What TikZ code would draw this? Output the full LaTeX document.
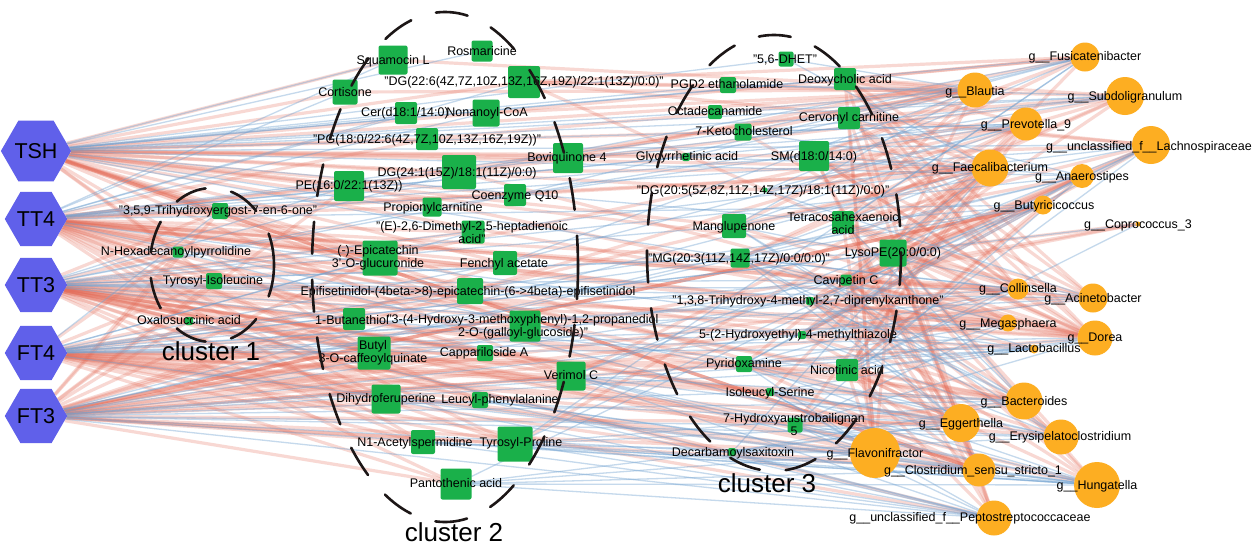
\documentclass[tikz,border=0pt]{standalone}
\usepackage{fontspec}
\setmainfont{Liberation Sans}
\usetikzlibrary{shapes.geometric}
\definecolor{hexblue}{RGB}{96,96,234}
\definecolor{mgreen}{RGB}{26,176,74}
\definecolor{borange}{RGB}{253,174,34}
\definecolor{poscol}{RGB}{228,108,88}
\definecolor{negcol}{RGB}{110,160,208}
\definecolor{ringcol}{RGB}{28,22,22}
\pgfdeclarelayer{bg}
\pgfdeclarelayer{edges}
\pgfsetlayers{bg,edges,main}
\newcommand{\gpre}{g\_\_}
\tikzset{
  met/.style={fill=mgreen, rounded corners=2pt, minimum size=#1, inner sep=0pt, outer sep=0pt},
  bac/.style={circle, fill=borange, minimum size=#1, inner sep=0pt, outer sep=0pt},
  hexnode/.style={regular polygon, regular polygon sides=6, minimum size=61pt, fill=hexblue, inner sep=0pt, font=\fontsize{21.5}{24}\selectfont},
  lbl/.style={inner sep=0pt, font=\fontsize{12.5}{13}\selectfont, text height=9pt, text depth=2.6pt},
  lbltwo/.style={inner sep=0pt, font=\fontsize{12.5}{13}\selectfont, align=center},
  clu/.style={draw=ringcol, line width=2.6pt, dash pattern=on 32pt off 26pt, line cap=round},
  clulbl/.style={inner sep=0pt, font=\fontsize{26}{28}\selectfont},
  poslink/.style={draw=poscol, line width=3.2pt, draw opacity=0.26},
  neglink/.style={draw=negcol, line width=1.3pt, draw opacity=0.4},
  posstrong/.style={draw=poscol, line width=3.5pt, draw opacity=0.6},
}
\begin{document}
\begin{tikzpicture}[x=1pt,y=-1pt]
\useasboundingbox (0,0) rectangle (1259,547);
\begin{pgfonlayer}{bg}
\fill[white] (0,0) rectangle (1259,547);
\end{pgfonlayer}

% thyroid parameters
\node[hexnode] (TSH) at (36,151) {TSH};
\node[hexnode] (TT4) at (36,219) {TT4};
\node[hexnode] (TT3) at (36,285) {TT3};
\node[hexnode] (FT4) at (36,353) {FT4};
\node[hexnode] (FT3) at (36,416) {FT3};

% metabolites, cluster 1
\node[met=16] (trihyd) at (220,211) {};
\node[met=11] (hexadec) at (178,252) {};
\node[met=16] (tyriso) at (214,281) {};
\node[met=8] (oxalo) at (189,321) {};
% metabolites, cluster 2
\node[met=29] (squam) at (393,60) {};
\node[met=21] (rosm) at (482,51) {};
\node[met=32] (dg22) at (524,82) {};
\node[met=25] (cort) at (345,92) {};
\node[met=22] (cer) at (406,113) {};
\node[met=27] (nonan) at (486,113) {};
\node[met=22] (pg18) at (427,139) {};
\node[met=30] (bovi) at (568,158) {};
\node[met=34] (dg24) at (459,172) {};
\node[met=30] (pe16) at (349,186) {};
\node[met=22] (coq10) at (515,195) {};
\node[met=19] (propc) at (432,207) {};
\node[met=23] (dimeth) at (473,232) {};
\node[met=35] (epicat) at (380,258) {};
\node[met=24] (fench) at (505,263) {};
\node[met=26] (epifis) at (470,291) {};
\node[met=22] (butthiol) at (354,319) {};
\node[met=31] (hmp) at (525,326) {};
\node[met=33] (butyl) at (374,353) {};
\node[met=16] (cappa) at (485,353) {};
\node[met=29] (verim) at (571,376) {};
\node[met=29] (dihydro) at (386,399) {};
\node[met=16] (leucyl) at (480,400) {};
\node[met=24] (acetyl) at (423,442) {};
\node[met=35] (tyrpro) at (515,444) {};
\node[met=31] (panto) at (456,484) {};
% metabolites, cluster 3
\node[met=15] (dhet) at (786,59) {};
\node[met=16] (pgd2) at (728,85) {};
\node[met=22] (deoxy) at (845,79) {};
\node[met=14] (octa) at (715,112) {};
\node[met=22] (cerv) at (849,118) {};
\node[met=17] (keto) at (743,132) {};
\node[met=8] (glyc) at (686,157) {};
\node[met=30] (sm) at (814,156) {};
\node[met=5] (dg20) at (765,190) {};
\node[met=24] (mangl) at (734,226) {};
\node[met=22] (tetra) at (843,222) {};
\node[met=19] (mg20) at (740,258) {};
\node[met=27] (lyso) at (893,253) {};
\node[met=11] (cavi) at (846,280) {};
\node[met=8] (trihx) at (810,301) {};
\node[met=8] (hydroxy) at (802,335) {};
\node[met=16] (pyrid) at (744,364) {};
\node[met=22] (nico) at (847,370) {};
\node[met=8] (isoser) at (770,392) {};
\node[met=15] (austro) at (795,425) {};
\node[met=8] (decarb) at (732,452) {};

% bacterial genera
\node[bac=29] (fusi) at (1085,57) {};
\node[bac=35] (blau) at (975,90) {};
\node[bac=38] (subdo) at (1125,96) {};
\node[bac=33] (prev) at (1026,124) {};
\node[bac=38] (lachno) at (1151,145) {};
\node[bac=37] (faec) at (990,168) {};
\node[bac=24] (anaero) at (1082,176) {};
\node[bac=19] (butyr) at (1043,205) {};
\node[bac=5] (copro) at (1138,224) {};
\node[bac=21] (collin) at (1018,289) {};
\node[bac=29] (acine) at (1093,298) {};
\node[bac=17] (mega) at (1008,323) {};
\node[bac=35] (dorea) at (1095,338) {};
\node[bac=9] (lacto) at (1034,349) {};
\node[bac=37] (bacter) at (1024,401) {};
\node[bac=38] (egger) at (961,423) {};
\node[bac=35] (erysi) at (1061,437) {};
\node[bac=33] (clost) at (979,470) {};
\node[bac=46] (hunga) at (1097,485) {};
\node[bac=35] (pepto) at (994,518) {};
\node[bac=50] (flavo) at (875,453) {};

% correlations
\begin{pgfonlayer}{edges}
% positive
\foreach \t in {cort,squam,dg22,nonan,pg18,pe16,dg24,epicat,epifis,trihyd,tyriso,hexadec,bovi,coq10,propc,fench,mangl,dg20,sm,lyso,faec,blau,dorea,egger,hmp,butyl,verim,keto,glyc}
  \draw[poslink] (TSH) -- (\t);
\foreach \t in {trihyd,hexadec,tyriso,oxalo,pe16,epicat,dimeth,propc,fench,epifis,butthiol,butyl,dihydro,leucyl,cappa,verim,tyrpro,acetyl,mg20,cavi,trihx,hydroxy,pyrid,nico,collin,dorea,acine,mega,bacter,hunga,faec,dg24,pg18}
  \draw[poslink] (TT4) -- (\t);
\foreach \t in {trihyd,hexadec,tyriso,oxalo,epicat,epifis,butthiol,hmp,butyl,cappa,dihydro,leucyl,acetyl,panto,tyrpro,verim,fench,dimeth,isoser,austro,decarb,pyrid,hydroxy,egger,clost,hunga,flavo,pepto,erysi,dorea,bacter,mega}
  \draw[poslink] (TT3) -- (\t);
\foreach \t in {tyriso,oxalo,hexadec,butyl,dihydro,acetyl,panto,tyrpro,leucyl,cappa,hmp,butthiol,epifis,verim,decarb,austro,isoser,pyrid,nico,flavo,pepto,clost,egger,bacter,erysi}
  \draw[poslink] (FT4) -- (\t);
\foreach \t in {trihyd,tyriso,oxalo,hexadec,butyl,dihydro,acetyl,panto,tyrpro,leucyl,hmp,butthiol,cappa,verim,epifis,epicat,pe16,fench,copro,dorea,collin,acine,mega,egger,clost,flavo}
  \draw[poslink] (FT3) -- (\t);
\draw[posstrong] (TSH) -- (clost);
\draw[posstrong] (FT3) -- (butyr);
\foreach \t in {sm,deoxy,lyso,mangl,bovi,dg22,nonan} \draw[poslink] (fusi) -- (\t);
\foreach \t in {dg22,nonan,pg18,dg24,sm,deoxy,cerv,keto,tetra,lyso,pe16,cort,squam} \draw[poslink] (blau) -- (\t);
\foreach \t in {dg22,dg24,sm,cerv,lyso,deoxy,tetra,mg20,epifis} \draw[poslink] (subdo) -- (\t);
\foreach \t in {deoxy,sm,lyso,mg20,tetra,nico,cavi,epicat} \draw[poslink] (prev) -- (\t);
\foreach \t in {sm,cerv,lyso,tetra,dg22,trihx,hydroxy} \draw[poslink] (lachno) -- (\t);
\foreach \t in {deoxy,cerv,sm,mangl,lyso,dg20,trihx,hydroxy,nico,pyrid,isoser,austro,tyrpro,verim,epifis,dg24,trihyd} \draw[poslink] (faec) -- (\t);
\foreach \t in {lyso,tetra,cavi,trihx,hydroxy,nico} \draw[poslink] (anaero) -- (\t);
\foreach \t in {lyso,cavi,nico} \draw[poslink] (butyr) -- (\t);
\foreach \t in {lyso,cavi} \draw[poslink] (copro) -- (\t);
\foreach \t in {lyso,cavi,trihx,sm,cerv,deoxy,tetra} \draw[poslink] (collin) -- (\t);
\foreach \t in {lyso,tetra,cerv,deoxy,sm,cavi,trihx} \draw[poslink] (acine) -- (\t);
\foreach \t in {lyso,cavi,trihx,hydroxy} \draw[poslink] (mega) -- (\t);
\foreach \t in {lyso,sm,cerv,deoxy,tetra,cavi,trihx,keto,mangl,mg20,dg22,dg24,pe16,tyriso} \draw[poslink] (dorea) -- (\t);
\foreach \t in {trihx,hydroxy} \draw[poslink] (lacto) -- (\t);
\foreach \t in {nico,hydroxy,pyrid,austro,cavi} \draw[poslink] (bacter) -- (\t);
\foreach \t in {nico,austro,pyrid,lyso,cavi,hydroxy} \draw[poslink] (egger) -- (\t);
\foreach \t in {nico,lyso,cavi,trihx} \draw[poslink] (erysi) -- (\t);
\foreach \t in {decarb,austro,isoser,nico,pyrid,lyso,cavi,tetra,sm} \draw[poslink] (clost) -- (\t);
\foreach \t in {lyso,nico,cavi,tetra,trihx} \draw[poslink] (hunga) -- (\t);
\foreach \t in {lyso,cavi,nico,deoxy,sm,cerv} \draw[poslink] (pepto) -- (\t);
\foreach \t in {lyso,nico,cavi,tetra,cerv,deoxy} \draw[poslink] (flavo) -- (\t);
% negative
\foreach \t in {rosm,cer,squam,fusi,lachno,subdo,pgd2,dhet,deoxy,octa,cerv,prev,dimeth,anaero,tetra,mg20}
  \draw[neglink] (TSH) -- (\t);
\foreach \t in {cort,squam,cer,nonan,dg22,coq10,bovi,sm,keto,prev,lachno,butyr,lacto,erysi,glyc}
  \draw[neglink] (TT4) -- (\t);
\foreach \t in {pe16,dg24,propc,coq10,mangl,mg20,lyso,cavi,trihx,nico,collin,acine,lacto,faec,anaero}
  \draw[neglink] (TT3) -- (\t);
\foreach \t in {trihyd,epicat,fench,dimeth,mg20,cavi,hydroxy,trihx,lyso,collin,acine,dorea,mega,lacto,butyr,copro,hunga}
  \draw[neglink] (FT4) -- (\t);
\foreach \t in {decarb,austro,isoser,pyrid,nico,hydroxy,trihx,bacter,erysi,lacto,mg20,cavi,faec,anaero,pepto,hunga}
  \draw[neglink] (FT3) -- (\t);
\foreach \t in {cerv,keto,dg20,tetra,tyrpro,dg24,coq10} \draw[neglink] (fusi) -- (\t);
\foreach \t in {dhet,pgd2,octa,mangl,glyc,fench} \draw[neglink] (blau) -- (\t);
\foreach \t in {pgd2,keto,octa,bovi,coq10} \draw[neglink] (subdo) -- (\t);
\foreach \t in {dg20,mangl,keto,bovi,fench,propc} \draw[neglink] (prev) -- (\t);
\foreach \t in {mangl,dg20,nico,pyrid,verim,tyrpro,panto} \draw[neglink] (lachno) -- (\t);
\foreach \t in {mg20,cavi,dhet,keto,glyc,decarb} \draw[neglink] (faec) -- (\t);
\foreach \t in {sm,cerv,mg20,pyrid,austro} \draw[neglink] (anaero) -- (\t);
\foreach \t in {tetra,mg20,hydroxy,trihx,verim} \draw[neglink] (butyr) -- (\t);
\foreach \t in {nico} \draw[neglink] (copro) -- (\t);
\foreach \t in {mg20,nico,pyrid,hydroxy} \draw[neglink] (collin) -- (\t);
\foreach \t in {mangl,mg20,dg20,hydroxy} \draw[neglink] (acine) -- (\t);
\foreach \t in {nico,pyrid,mg20,austro} \draw[neglink] (mega) -- (\t);
\foreach \t in {nico,pyrid,austro,isoser} \draw[neglink] (dorea) -- (\t);
\foreach \t in {pyrid,nico,mg20} \draw[neglink] (lacto) -- (\t);
\foreach \t in {mg20,trihx,lyso,tetra,mangl,decarb,isoser,verim,tyrpro} \draw[neglink] (bacter) -- (\t);
\foreach \t in {isoser,decarb,mg20,trihx,verim,tyrpro,panto,dihydro} \draw[neglink] (egger) -- (\t);
\foreach \t in {hydroxy,pyrid,austro,isoser,decarb,mg20,mangl} \draw[neglink] (erysi) -- (\t);
\foreach \t in {verim,tyrpro,panto,leucyl,acetyl} \draw[neglink] (clost) -- (\t);
\foreach \t in {decarb,austro,pyrid,isoser,panto,tyrpro,leucyl,acetyl,verim,dihydro,hexadec} \draw[neglink] (hunga) -- (\t);
\foreach \t in {decarb,austro,panto,tyrpro,acetyl,leucyl,verim,dihydro,isoser,oxalo} \draw[neglink] (pepto) -- (\t);
\foreach \t in {decarb,austro,isoser,pyrid,panto,tyrpro,verim} \draw[neglink] (flavo) -- (\t);
\end{pgfonlayer}

% metabolite labels, cluster 1
\node[lbl] (ltrihyd) at (218,211) {"3,5,9-Trihydroxyergost-7-en-6-one"};
\node[lbl] (lhexadec) at (176,252) {N-Hexadecanoylpyrrolidine};
\node[lbl] (ltyriso) at (213,281) {Tyrosyl-Isoleucine};
\node[lbl] (loxalo) at (189,321) {Oxalosuccinic acid};
% cluster 2
\node[lbl] (lsquam) at (393,61) {Squamocin L};
\node[lbl] (lrosm) at (482,52) {Rosmaricine};
\node[lbl] (ldg22) at (524,82) {"DG(22:6(4Z,7Z,10Z,13Z,16Z,19Z)/22:1(13Z)/0:0)"};
\node[lbl] (lcort) at (345,93) {Cortisone};
\node[lbl] (lcer) at (405,113) {Cer(d18:1/14:0)};
\node[lbl] (lnonan) at (487,113) {Nonanoyl-CoA};
\node[lbl] (lpg18) at (427,140) {"PG(18:0/22:6(4Z,7Z,10Z,13Z,16Z,19Z))"};
\node[lbl] (lbovi) at (567,158) {Boviquinone 4};
\node[lbl] (ldg24) at (457,173) {DG(24:1(15Z)/18:1(11Z)/0:0)};
\node[lbl] (lpe16) at (349,186) {PE(16:0/22:1(13Z))};
\node[lbl] (lcoq10) at (515,196) {Coenzyme Q10};
\node[lbl] (lpropc) at (433,208) {Propionylcarnitine};
\node[lbltwo] (ldimeth) at (472,233) {"(E)-2,6-Dimethyl-2,5-heptadienoic\\acid"};
\node[lbltwo] (lepicat) at (378,258) {(-)-Epicatechin\\3'-O-glucuronide};
\node[lbl] (lfench) at (504,264) {Fenchyl acetate};
\node[lbl] (lepifis) at (468,292) {Epifisetinidol-(4beta->8)-epicatechin-(6->4beta)-epifisetinidol};
\node[lbl] (lbutthiol) at (352,321) {1-Butanethiol};
\node[lbltwo] (lhmp) at (523,327) {"3-(4-Hydroxy-3-methoxyphenyl)-1,2-propanediol\\2-O-(galloyl-glucoside)"};
\node[lbltwo] (lbutyl) at (373,353) {Butyl\\3-O-caffeoylquinate};
\node[lbl] (lcappa) at (484,353) {Cappariloside A};
\node[lbl] (lverim) at (571,376) {Verimol C};
\node[lbl] (ldihydro) at (386,399) {Dihydroferuperine};
\node[lbl] (lleucyl) at (500,400) {Leucyl-phenylalanine};
\node[lbl] (lacetyl) at (415,443) {N1-Acetylspermidine};
\node[lbl] (ltyrpro) at (521,443) {Tyrosyl-Proline};
\node[lbl] (lpanto) at (456,484) {Pantothenic acid};
% cluster 3
\node[lbl] (ldhet) at (785,60) {"5,6-DHET"};
\node[lbl] (lpgd2) at (727,85) {PGD2 ethanolamide};
\node[lbl] (ldeoxy) at (845,80) {Deoxycholic acid};
\node[lbl] (locta) at (715,112) {Octadecanamide};
\node[lbl] (lcerv) at (849,118) {Cervonyl carnitine};
\node[lbl] (lketo) at (744,132) {7-Ketocholesterol};
\node[lbl] (lglyc) at (687,157) {Glycyrrhetinic acid};
\node[lbl] (lsm) at (814,157) {SM(d18:0/14:0)};
\node[lbl] (ldg20) at (763,191) {"DG(20:5(5Z,8Z,11Z,14Z,17Z)/18:1(11Z)/0:0)"};
\node[lbl] (lmangl) at (734,227) {Manglupenone};
\node[lbltwo] (ltetra) at (843,224) {Tetracosahexaenoic\\acid};
\node[lbl] (lmg20) at (739,259) {"MG(20:3(11Z,14Z,17Z)/0:0/0:0)"};
\node[lbl] (llyso) at (893,253) {LysoPE(20:0/0:0)};
\node[lbl] (lcavi) at (846,281) {Cavipetin C};
\node[lbl] (ltrihx) at (808,301) {"1,3,8-Trihydroxy-4-methyl-2,7-diprenylxanthone"};
\node[lbl] (lhydroxy) at (798,335) {5-(2-Hydroxyethyl)-4-methylthiazole};
\node[lbl] (lpyrid) at (744,364) {Pyridoxamine};
\node[lbl] (lnico) at (847,371) {Nicotinic acid};
\node[lbl] (lisoser) at (770,393) {Isoleucyl-Serine};
\node[lbltwo] (laustro) at (794,425) {7-Hydroxyaustrobailignan\\5};
\node[lbl] (ldecarb) at (733,453) {Decarbamoylsaxitoxin};

% genus labels
\node[lbl] (lfusi) at (1085,57) {\gpre Fusicatenibacter};
\node[lbl] (lblau) at (975,92) {\gpre Blautia};
\node[lbl] (lsubdo) at (1125,97) {\gpre Subdoligranulum};
\node[lbl] (lprev) at (1026,125) {\gpre Prevotella\_9};
\node[lbl] (llachno) at (1149,147) {\gpre unclassified\_f\_\_Lachnospiraceae};
\node[lbl] (lfaec) at (990,168) {\gpre Faecalibacterium};
\node[lbl] (lanaero) at (1082,177) {\gpre Anaerostipes};
\node[lbl] (lbutyr) at (1044,206) {\gpre Butyricicoccus};
\node[lbl] (lcopro) at (1138,225) {\gpre Coprococcus\_3};
\node[lbl] (lcollin) at (1018,289) {\gpre Collinsella};
\node[lbl] (lacine) at (1093,299) {\gpre Acinetobacter};
\node[lbl] (lmega) at (1008,324) {\gpre Megasphaera};
\node[lbl] (ldorea) at (1095,338) {\gpre Dorea};
\node[lbl] (llacto) at (1034,349) {\gpre Lactobacillus};
\node[lbl] (lbacter) at (1024,402) {\gpre Bacteroides};
\node[lbl] (legger) at (961,424) {\gpre Eggerthella};
\node[lbl] (lerysi) at (1060,437) {\gpre Erysipelatoclostridium};
\node[lbl] (lclost) at (973,471) {\gpre Clostridium\_sensu\_stricto\_1};
\node[lbl] (lhunga) at (1097,486) {\gpre Hungatella};
\node[lbl] (lpepto) at (970,518) {\gpre unclassified\_f\_\_Peptostreptococcaceae};
\node[lbl] (lflavo) at (875,454) {\gpre Flavonifractor};

% cluster outlines
\draw[clu] (212,265) ellipse [x radius=62, y radius=77];
\draw[clu] (445,267) ellipse [x radius=133, y radius=255];
\draw[clu] (774,253) ellipse [x radius=127, y radius=218];
\node[clulbl] (cl1) at (211,351) {cluster 1};
\node[clulbl] (cl2) at (454,532) {cluster 2};
\node[clulbl] (cl3) at (767,483) {cluster 3};
\end{tikzpicture}
\end{document}
